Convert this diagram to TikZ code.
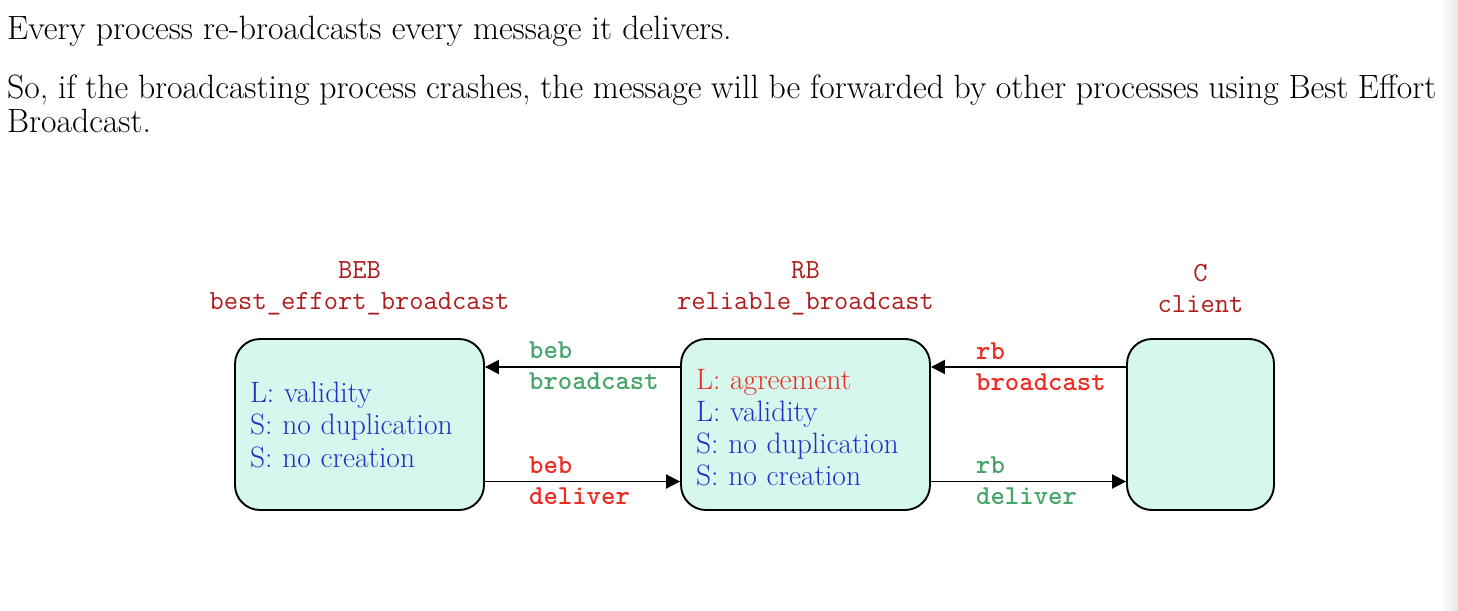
\documentclass[tikz,border=0pt]{standalone}
\usepackage{fontspec}
\usetikzlibrary{arrows.meta}
\definecolor{boxfill}{RGB}{214,247,238}
\definecolor{hdrred}{RGB}{175,28,28}
\definecolor{lblred}{RGB}{236,44,32}
\definecolor{lblgreen}{RGB}{72,165,106}
\definecolor{propblue}{RGB}{38,44,198}
\tikzset{
  bodytext/.style={inner sep=0pt, anchor=base west, font=\fontsize{33.7}{40}\selectfont},
  proc/.style={draw=black, line width=1.9pt, fill=boxfill, rounded corners=25pt,
    minimum height=171pt, inner xsep=15pt, inner ysep=0pt, align=left,
    font=\fontsize{29.5}{32.5}\selectfont, text=propblue},
  hdr/.style={font=\fontsize{27.7}{31}\selectfont\ttfamily, text=hdrred, align=center, inner sep=0pt},
  lbl/.style={font=\fontsize{27.4}{31}\selectfont\ttfamily\bfseries, align=left, anchor=west, inner sep=0pt},
  conn/.style={line width=1.9pt, -{Triangle[length=14pt,width=14pt]}}
}
\begin{document}
\begin{tikzpicture}[x=1pt,y=-1pt]
\useasboundingbox (0,0) rectangle (1458,610);
\fill[white] (0,0) rectangle (1458,610);
\shade[left color=white,right color=black!9] (1440,0) rectangle (1458,610);

\node[bodytext] (t1) at (7,40) {Every process re-broadcasts every message it delivers.};
\node[bodytext] (t2) at (7,98) {\makebox[1429pt][s]{So, if the broadcasting process crashes, the message will be forwarded by other processes using Best Effort}};
\node[bodytext] (t3) at (7,132) {Broadcast.};

\node[proc, text width=219pt] (beb) at (359.5,424.5) {L: validity\\S: no duplication\\S: no creation};
\node[proc, text width=219pt, font=\fontsize{29.5}{32.3}\selectfont] (rb) at (805.5,424.5) {\rule{0pt}{26.5pt}\textcolor{lblred}{L: agreement}\\L: validity\\S: no duplication\\S: no creation};
\node[proc, text width=117pt] (cl) at (1200.5,424.5) {};

\node[hdr] (hbeb) at (359.5,288) {BEB\\best\_effort\_broadcast};
\node[hdr] (hrb) at (805.5,288) {RB\\reliable\_broadcast};
\node[hdr] (hcl) at (1200.5,288) {C\\client};

\draw[conn] (rb.west |- 0,367) -- (beb.east |- 0,367);
\draw[conn] (beb.east |- 0,481.5) -- (rb.west |- 0,481.5);
\draw[conn] (cl.west |- 0,367) -- (rb.east |- 0,367);
\draw[conn] (rb.east |- 0,481.5) -- (cl.west |- 0,481.5);

\node[lbl, text=lblgreen] (l1) at (529,366) {beb\\broadcast};
\node[lbl, text=lblred] (l2) at (529,481) {beb\\deliver};
\node[lbl, text=lblred] (l3) at (976,367) {rb\\broadcast};
\node[lbl, text=lblgreen] (l4) at (976,481) {rb\\deliver};
\end{tikzpicture}
\end{document}
